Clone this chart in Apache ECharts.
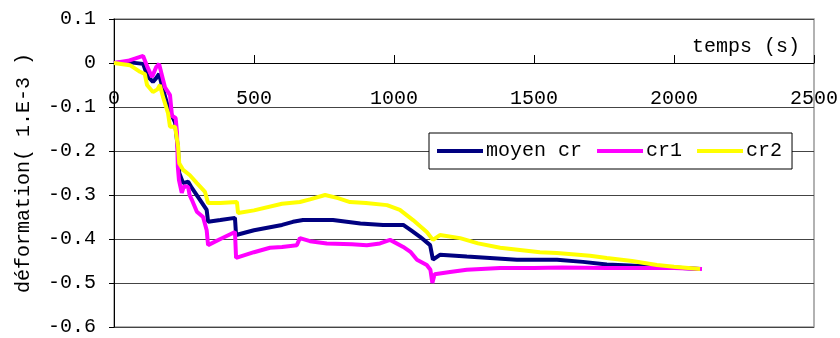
<!DOCTYPE html>
<html>
<head>
<meta charset="utf-8">
<script src="https://cdn.jsdelivr.net/npm/echarts@6/dist/echarts.min.js"></script>
<style>
  html, body { margin: 0; padding: 0; background: #fff; }
  #chart { width: 840px; height: 338px; }
</style>
</head>
<body>
<div id="chart"></div>
<script>
// temps (s) / déformation
const tMoyen = [0, 50, 104, 120, 139, 150, 161, 175, 193, 200, 218, 229, 233, 247, 265, 278, 307, 331, 336, 380, 432, 436, 500, 600, 639, 675, 782, 880, 961, 1033, 1060, 1093, 1129, 1139, 1164, 1260, 1439, 1582, 1675, 1760, 1900, 2000, 2093]
const vMoyen = [0, 0.002, -0.002, -0.03, -0.043, -0.035, -0.025, -0.06, -0.1, -0.11, -0.135, -0.2, -0.25, -0.273, -0.27, -0.284, -0.311, -0.334, -0.361, -0.357, -0.352, -0.391, -0.38, -0.368, -0.361, -0.357, -0.357, -0.365, -0.368, -0.368, -0.38, -0.395, -0.414, -0.447, -0.436, -0.44, -0.447, -0.447, -0.452, -0.458, -0.462, -0.465, -0.468]

const tCr1 = [0, 50, 104, 120, 136, 150, 161, 172, 182, 200, 207, 220, 225, 228, 232, 242, 250, 265, 270, 278, 296, 318, 331, 336, 380, 432, 436, 500, 557, 600, 653, 664, 700, 760, 850, 903, 950, 986, 1033, 1060, 1082, 1117, 1130, 1137, 1145, 1200, 1260, 1379, 1500, 1600, 1760, 1900, 2000, 2100]
const vCr1 = [0, 0.005, 0.016, -0.01, -0.032, -0.01, -0.002, -0.03, -0.055, -0.073, -0.12, -0.125, -0.157, -0.236, -0.266, -0.295, -0.28, -0.282, -0.3, -0.311, -0.338, -0.35, -0.38, -0.414, -0.4, -0.384, -0.443, -0.43, -0.42, -0.418, -0.414, -0.398, -0.405, -0.41, -0.412, -0.414, -0.41, -0.402, -0.418, -0.43, -0.447, -0.459, -0.47, -0.5, -0.48, -0.475, -0.47, -0.466, -0.466, -0.465, -0.466, -0.466, -0.466, -0.468]

const tCr2 = [0, 57, 93, 110, 118, 139, 155, 164, 175, 193, 200, 218, 229, 233, 247, 271, 296, 325, 336, 380, 439, 443, 500, 600, 664, 700, 754, 800, 843, 900, 975, 1021, 1068, 1117, 1139, 1164, 1236, 1300, 1379, 1521, 1582, 1700, 1760, 1850, 1939, 2000, 2093]
const vCr2 = [0, -0.005, -0.02, -0.025, -0.05, -0.066, -0.06, -0.05, -0.077, -0.114, -0.145, -0.145, -0.19, -0.228, -0.243, -0.255, -0.273, -0.293, -0.318, -0.318, -0.316, -0.341, -0.335, -0.32, -0.316, -0.31, -0.3, -0.307, -0.316, -0.318, -0.323, -0.334, -0.357, -0.384, -0.402, -0.391, -0.398, -0.41, -0.42, -0.43, -0.432, -0.438, -0.443, -0.45, -0.459, -0.463, -0.468]

const seriesNames = ['moyen cr', 'cr1', 'cr2']
const seriesColors = ['#000080', '#FF00FF', '#FFFF00']

function pairs(t, v) {
    let result = []
    t.forEach((x, i) => {
        result.push([x, v[i]])
    })
    return result
}

const font = 'Liberation Mono'
let chart = echarts.init(document.getElementById('chart'))

const lineSeries = [pairs(tMoyen, vMoyen), pairs(tCr1, vCr1), pairs(tCr2, vCr2)].map((d, i) => ({
    name: seriesNames[i],
    type: 'line',
    data: d,
    symbol: 'none',
    color: seriesColors[i],
    lineStyle: { width: 4, color: seriesColors[i] },
    animation: false
}))

// x axis sits on the 0 line: offset up from the bottom of the grid
const gridTop = 19, gridBottom = 11, plotH = 338 - gridTop - gridBottom
const zeroOffset = -plotH * 0.6 / 0.7

let option = {
    backgroundColor: '#fff',
    textStyle: { fontFamily: font },
    grid: {
        left: 114, right: 26, top: gridTop, bottom: gridBottom,
        outerBoundsMode: 'none',
        containLabel: false,
        show: true,
        borderColor: '#999',
        borderWidth: 1.5
    },
    legend: {
        left: 429,
        top: 133,
        itemWidth: 46,
        itemHeight: 4,
        itemGap: 15,
        icon: 'rect',
        padding: [8, 10, 8, 8],
        borderColor: '#000',
        borderWidth: 1,
        backgroundColor: '#fff',
        textStyle: { fontFamily: font, fontSize: 20, color: '#000', padding: [0, 0, 0, -2] },
        data: seriesNames
    },
    xAxis: {
        type: 'value',
        min: 0,
        max: 2500,
        interval: 500,
        position: 'bottom',
        offset: zeroOffset,
        name: 'temps (s)',
        nameLocation: 'end',
        nameGap: -14,
        nameTextStyle: { fontFamily: font, fontSize: 20, color: '#000', align: 'right', verticalAlign: 'bottom', padding: [0, 0, 6, 0] },
        axisLine: { onZero: false, lineStyle: { color: '#000', width: 1 } },
        axisTick: { inside: true, length: 8, lineStyle: { color: '#000' } },
        axisLabel: { fontFamily: font, fontSize: 20, color: '#000', margin: 26, formatter: v => String(v) },
        splitLine: { show: false }
    },
    yAxis: {
        type: 'value',
        min: -0.6,
        max: 0.1,
        interval: 0.1,
        name: 'déformation( 1.E-3 )',
        nameLocation: 'middle',
        nameGap: 80,
        nameTextStyle: { fontFamily: font, fontSize: 20, color: '#000' },
        axisLine: { show: true, lineStyle: { color: '#000', width: 1 } },
        axisTick: { show: true, length: 5, lineStyle: { color: '#000' } },
        axisLabel: {
            fontFamily: font, fontSize: 20, color: '#000', margin: 18,
            formatter: v => {
                let r = Math.round(v * 10) / 10
                return r === 0 ? '0' : r.toFixed(1)
            }
        },
        splitLine: { show: true, lineStyle: { color: '#444', width: 1 } }
    },
    series: lineSeries
}

chart.setOption(option)
</script>
</body>
</html>
